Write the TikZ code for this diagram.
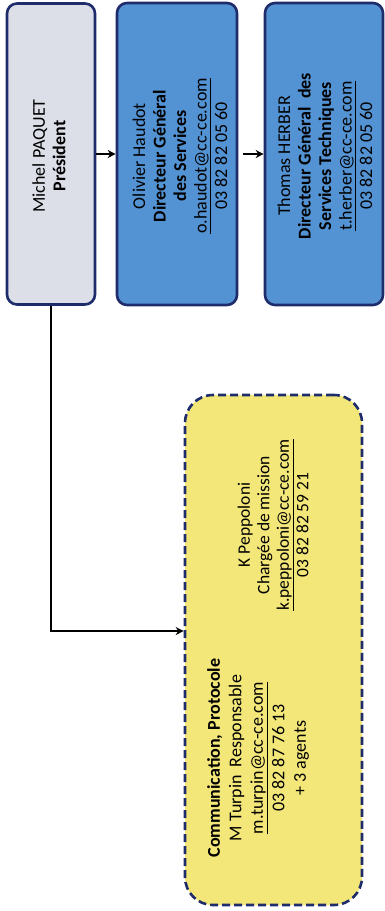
\documentclass[tikz,border=0pt]{standalone}
\usepackage{fontspec}
\setmainfont{Carlito}
\usetikzlibrary{arrows.meta}

\definecolor{boxnavy}{HTML}{1F2C6B}
\definecolor{presgray}{HTML}{DCDFE8}
\definecolor{dgsblue}{HTML}{5393D3}
\definecolor{comyellow}{HTML}{F4E77A}

\begin{document}
\begin{tikzpicture}[x=1pt,y=-1pt,
    card/.style={draw=boxnavy,line width=2.6pt,rounded corners=10pt,inner sep=0pt},
    txt/.style={align=center,rotate=90,inner sep=0pt,font=\fontsize{18}{20.5}\selectfont},
    link/.style={-{Stealth[length=8pt,width=8pt]},line width=2pt}]
    \useasboundingbox (0,0) rectangle (385,911);

    % boxes
    \node[card,fill=presgray,minimum width=88pt,minimum height=301pt] (pres) at (51,154) {};
    \node[card,fill=dgsblue,minimum width=120pt,minimum height=302pt] (dgs) at (177,154) {};
    \node[card,fill=dgsblue,minimum width=118pt,minimum height=302pt] (dgst) at (324,154) {};
    \node[card,fill=comyellow,dash pattern=on 8pt off 4pt,rounded corners=28pt,
          minimum width=177pt,minimum height=510pt] (com) at (273.5,650) {};

    % texts
    \node[txt] (presname) at (49,156) {Michel PAQUET\\\textbf{Président}};
    \node[txt] (dgsname) at (180,156) {Olivier Haudot\\\textbf{Directeur Général}\\
        \textbf{des Services}\\\underline{o.haudot@cc-ce.com}\\03 82 82 05 60};
    \node[txt] (dgstname) at (325,156) {Thomas HERBER\\\textbf{Directeur Général\ \ des}\\
        \textbf{Services Techniques}\\\underline{t.herber@cc-ce.com}\\03 82 82 05 60};
    \node[txt,font=\fontsize{17.5}{19.5}\selectfont] (kpep) at (273,525) {K Peppoloni\\Chargée de mission\\
        \underline{k.peppoloni@cc-ce.com}\\03 82 82 59 21};
    \node[txt,font=\fontsize{18}{21.5}\selectfont] (turpin) at (258,758) {\textbf{Communication, Protocole}\\
        M Turpin\ \ Responsable\\\underline{m.turpin@cc-ce.com}\\03 82 87 76 13\\+ 3 agents};

    % links
    \draw[link] (pres.east) -- (dgs.west);
    \draw[link] ([xshift=5pt]dgs.east) -- (dgst.west);
    \draw[link] (pres.south) |- ([yshift=19pt]com.west);
\end{tikzpicture}
\end{document}
